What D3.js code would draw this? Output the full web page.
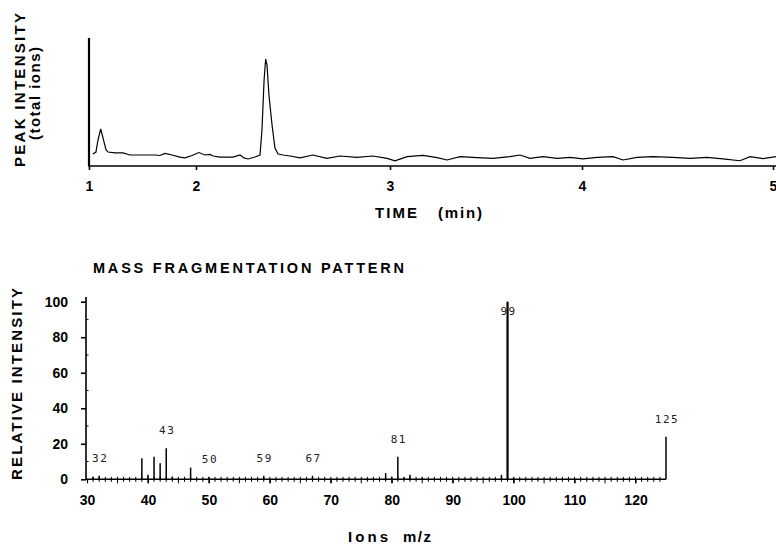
<!DOCTYPE html>
<html>
<head>
<meta charset="utf-8">
<script src="https://cdn.jsdelivr.net/npm/d3@7"></script>
<style>
  html, body { margin: 0; padding: 0; background: #fff; }
  svg { display: block; }
  text { font-family: "Liberation Sans", Arial, sans-serif; fill: #000; }
</style>
</head>
<body>
<svg id="chart" width="776" height="544"></svg>
<script>
// ---------- Data: total ion chromatogram ----------
const timeMin = [1.035,1.065,1.084,1.109,1.131,1.159,1.178,1.243,1.318,1.383,1.523,1.617,1.664,1.710,1.776,1.850,1.897,1.963,2.015,2.046,2.072,2.088,2.124,2.191,2.227,2.247,2.268,2.304,2.330,2.340,2.351,2.359,2.366,2.376,2.392,2.407,2.423,2.448,2.485,2.536,2.603,2.675,2.742,2.830,2.912,2.985,3.026,3.089,3.172,3.245,3.297,3.365,3.453,3.536,3.625,3.677,3.729,3.797,3.870,3.938,4.005,4.079,4.162,4.215,4.288,4.372,4.476,4.565,4.654,4.738,4.827,4.880,4.948,5.016];
const peakIntensity = [9.4,10.9,20.3,28.9,21.9,12.5,10.9,10.2,10.2,8.6,8.6,8.6,8.2,9.8,8.6,7.0,6.3,8.2,10.5,8.6,9.0,7.8,7.0,7.0,8.6,6.3,5.5,7.0,8.6,28.1,67.2,83.6,78.9,55.5,32.0,14.1,9.4,8.6,7.8,6.3,8.6,6.0,7.8,6.8,7.8,6.0,4.1,7.3,8.3,6.5,4.7,7.3,6.5,6.0,7.3,8.6,6.0,7.3,6.0,6.8,5.5,6.8,7.3,4.7,6.8,7.3,6.8,6.0,6.8,5.5,4.1,7.3,5.7,7.3];
const timeTicks = [1,2,3,4,5];

// ---------- Data: mass fragmentation pattern ----------
const massValues   = [31,32,39,40,41,42,43,44,47,50,59,67,79,80,81,82,83,85,98,99,100,125];
const relIntensity = [1.5,2,11.8,2.6,12.7,9,17.5,1.5,6.6,1.3,2,2,3.5,1.5,12.7,1.2,2.5,1,2.5,100,1,24];
const labeledMasses = [32,43,50,59,67,81,99,125];
const intensityTicks = [0,20,40,60,80,100];
const massTicks = [30,40,50,60,70,80,90,100,110,120];

const svg = d3.select("#chart");

// ================= TOP: chromatogram =================
const xTop = d3.scaleLinear().domain(timeTicks).range([89,196,390,582,773]);
const yTop = d3.scaleLinear().domain([0,100]).range([166,38]);

svg.append("line").attr("x1",89).attr("x2",89).attr("y1",38).attr("y2",166)
  .attr("stroke","#000").attr("stroke-width",2.2);
svg.append("line").attr("x1",88).attr("x2",776).attr("y1",166).attr("y2",166)
  .attr("stroke","#000").attr("stroke-width",1.6);

const gxTop = svg.append("g").attr("transform","translate(0,166)")
  .call(d3.axisBottom(xTop).tickValues(timeTicks).tickFormat(d3.format("d"))
        .tickSize(4).tickSizeOuter(0).tickPadding(11));
gxTop.select(".domain").remove();
gxTop.selectAll("line").attr("stroke","#000").attr("stroke-width",1.6);
gxTop.selectAll("text").style("font-size","14px").style("font-weight","bold")
  .attr("font-family",null);

const lineTop = d3.line().x((d,i)=>xTop(timeMin[i])).y((d,i)=>yTop(peakIntensity[i])).curve(d3.curveLinear);
svg.append("path").datum(timeMin).attr("d",lineTop)
  .attr("fill","none").attr("stroke","#000").attr("stroke-width",1.2);

svg.append("text").attr("transform","translate(25,90) rotate(-90)")
  .attr("text-anchor","middle").attr("textLength",154).attr("lengthAdjust","spacing")
  .style("font-size","15px").style("font-weight","bold").text("PEAK INTENSITY");
svg.append("text").attr("transform","translate(40,93.5) rotate(-90)")
  .attr("text-anchor","middle").attr("textLength",93).attr("lengthAdjust","spacing")
  .style("font-size","15px").style("font-weight","bold").text("(total ions)");
svg.append("text").attr("x",375).attr("y",218).attr("textLength",42).attr("lengthAdjust","spacing")
  .style("font-size","15px").style("font-weight","bold").text("TIME");
svg.append("text").attr("x",438).attr("y",218).attr("textLength",44).attr("lengthAdjust","spacing")
  .style("font-size","15px").style("font-weight","bold").text("(min)");

// ================= BOTTOM: mass spectrum =================
const xBot = d3.scaleLinear().domain([30,125]).range([87,666]);
const yBot = d3.scaleLinear().domain([0,100]).range([479.3,301.7]);

svg.append("text").attr("x",93).attr("y",273).attr("textLength",311).attr("lengthAdjust","spacing")
  .style("font-size","14.5px").style("font-weight","bold").text("MASS FRAGMENTATION PATTERN");

svg.append("line").attr("x1",86).attr("x2",86).attr("y1",297).attr("y2",479.3)
  .attr("stroke","#000").attr("stroke-width",1.6);
const gyBot = svg.append("g").attr("transform","translate(86,0)")
  .call(d3.axisLeft(yBot).tickValues(intensityTicks).tickSize(5).tickSizeOuter(0).tickPadding(13));
gyBot.select(".domain").remove();
gyBot.selectAll("line").attr("stroke","#000").attr("stroke-width",1.6);
gyBot.selectAll("text").style("font-size","14px").style("font-weight","bold").attr("font-family",null);
svg.append("g").selectAll("line").data(d3.range(10,100,20)).join("line")
  .attr("x1",86).attr("x2",88.5).attr("y1",d=>yBot(d)).attr("y2",d=>yBot(d))
  .attr("stroke","#000").attr("stroke-width",1);

svg.append("line").attr("x1",86).attr("x2",xBot(125)).attr("y1",479.3).attr("y2",479.3)
  .attr("stroke","#000").attr("stroke-width",1.6);
svg.append("g").selectAll("line").data(d3.range(31,125)).join("line")
  .attr("x1",d=>xBot(d)).attr("x2",d=>xBot(d))
  .attr("y1",479.3-2.5).attr("y2",d=> d%5===0 ? 479.3+4 : 479.3+2.5)
  .attr("stroke","#000").attr("stroke-width",1);
const gxBot = svg.append("g").attr("transform","translate(0,479.3)")
  .call(d3.axisBottom(xBot).tickValues(massTicks).tickFormat(d3.format("d"))
        .tickSize(4).tickSizeOuter(0).tickPadding(11.8));
gxBot.select(".domain").remove();
gxBot.selectAll("line").attr("stroke","#000").attr("stroke-width",1.2);
gxBot.selectAll("text").style("font-size","14px").style("font-weight","bold").attr("font-family",null);

svg.append("g").selectAll("line").data(massValues).join("line")
  .attr("x1",d=>xBot(d)).attr("x2",d=>xBot(d))
  .attr("y1",yBot(0)).attr("y2",(d,i)=>yBot(relIntensity[i]))
  .attr("stroke","#000").attr("stroke-width",(d,i)=> relIntensity[i] > 50 ? 2.2 : 1.5);

svg.append("g").selectAll("text").data(labeledMasses).join("text")
  .attr("x",d=>xBot(d)+1)
  .attr("y",d=>{
    const v = relIntensity[massValues.indexOf(d)];
    return Math.max(yBot(v) - 14, yBot(100) + 13);
  })
  .attr("text-anchor","middle")
  .style("font-family","'DejaVu Sans Mono', monospace")
  .style("font-size","11px").style("letter-spacing","1.5px").style("fill","#222")
  .text(d=>d);

svg.append("text").attr("x",348).attr("y",542).attr("textLength",40).attr("lengthAdjust","spacing")
  .style("font-size","15px").style("font-weight","bold").text("Ions");
svg.append("text").attr("x",403).attr("y",542).attr("textLength",28).attr("lengthAdjust","spacing")
  .style("font-size","15px").style("font-weight","bold").text("m/z");

svg.append("text").attr("transform","translate(22,384) rotate(-90)")
  .attr("text-anchor","middle").attr("textLength",192).attr("lengthAdjust","spacing")
  .style("font-size","15px").style("font-weight","bold").text("RELATIVE INTENSITY");
</script>
</body>
</html>
